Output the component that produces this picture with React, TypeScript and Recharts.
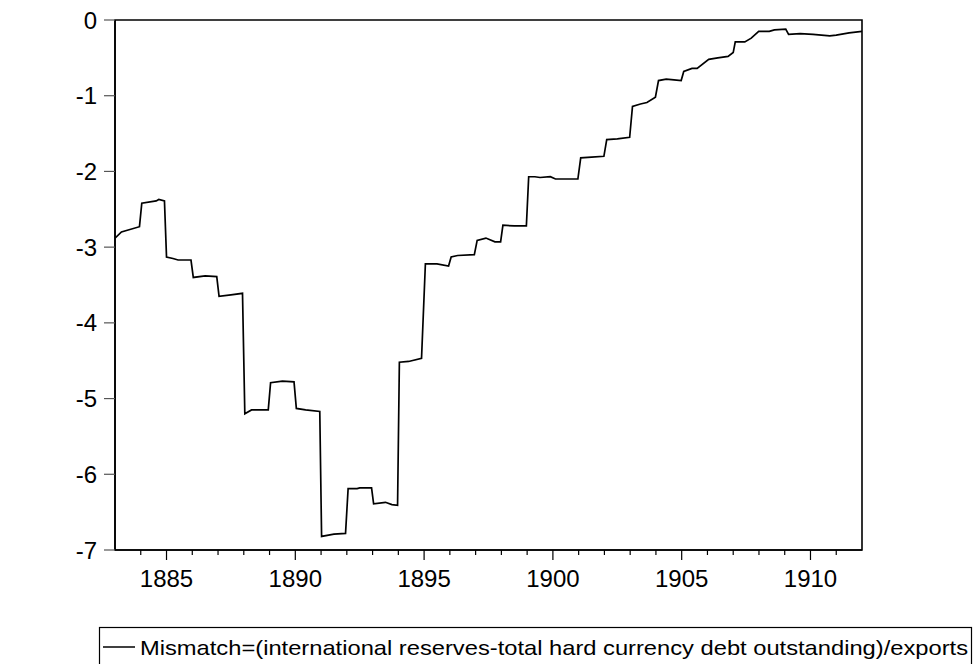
import { LineChart, Line, XAxis, YAxis, ReferenceArea } from 'recharts';

const years = [
  1883.0, 1883.25, 1883.95, 1884.04, 1884.6, 1884.7, 1884.92, 1885.0, 1885.25, 1885.45,
  1885.95, 1886.04, 1886.5, 1886.95, 1887.04, 1887.5, 1887.95, 1888.04, 1888.3, 1888.95,
  1889.04, 1889.5, 1889.95, 1890.04, 1890.4, 1890.95, 1891.02, 1891.5, 1891.95, 1892.05,
  1892.4, 1892.5, 1892.96, 1893.04, 1893.5, 1893.75, 1893.97, 1894.04, 1894.4, 1894.9,
  1895.05, 1895.5, 1895.95, 1896.05, 1896.3, 1896.95, 1897.06, 1897.4, 1897.75, 1897.97,
  1898.06, 1898.5, 1898.97, 1899.06, 1899.3, 1899.5, 1899.9, 1900.1, 1900.5, 1900.97,
  1901.08, 1901.5, 1901.98, 1902.09, 1902.5, 1902.98, 1903.09, 1903.4, 1903.65, 1903.98,
  1904.1, 1904.4, 1904.7, 1904.98, 1905.08, 1905.4, 1905.6, 1906.05, 1906.4, 1906.8,
  1907.0, 1907.08, 1907.45, 1907.7, 1907.99, 1908.4, 1908.6, 1909.04, 1909.15, 1909.6,
  1910.1, 1910.75, 1911.0, 1911.5, 1912.0,
];

const mismatch = [
  -2.88, -2.8, -2.73, -2.42, -2.39, -2.37, -2.39, -3.13, -3.15, -3.17,
  -3.17, -3.4, -3.38, -3.39, -3.65, -3.63, -3.61, -5.2, -5.15, -5.15,
  -4.79, -4.77, -4.78, -5.13, -5.15, -5.17, -6.82, -6.79, -6.78, -6.19,
  -6.19, -6.18, -6.18, -6.39, -6.37, -6.4, -6.41, -4.52, -4.51, -4.47,
  -3.22, -3.22, -3.25, -3.13, -3.11, -3.1, -2.91, -2.88, -2.93, -2.93,
  -2.71, -2.72, -2.72, -2.07, -2.07, -2.08, -2.07, -2.1, -2.1, -2.1,
  -1.82, -1.81, -1.8, -1.58, -1.57, -1.55, -1.14, -1.11, -1.09, -1.02,
  -0.8, -0.78, -0.79, -0.8, -0.68, -0.64, -0.64, -0.52, -0.5, -0.48,
  -0.43, -0.29, -0.29, -0.24, -0.15, -0.15, -0.13, -0.12, -0.19, -0.18,
  -0.19, -0.21, -0.2, -0.17, -0.15,
];

const yearTicks = [
  1884, 1885, 1886, 1887, 1888, 1889, 1890, 1891, 1892, 1893, 1894, 1895, 1896, 1897,
  1898, 1899, 1900, 1901, 1902, 1903, 1904, 1905, 1906, 1907, 1908, 1909, 1910, 1911,
];
const labelledYears = [1885, 1890, 1895, 1900, 1905, 1910];
const valueTicks = [-7, -6, -5, -4, -3, -2, -1, 0];

const seriesName = 'Mismatch=(international reserves-total hard currency debt outstanding)/exports';

const data = years.map((year, i) => ({ year, mismatch: mismatch[i] }));

const FONT = '"Liberation Sans", Arial, sans-serif';

// long tick + label on every fifth year, short tick otherwise
const YearTick = (props: any) => {
  const { x, y, payload } = props;
  const major = labelledYears.includes(payload.value);
  return (
    <g>
      <line x1={x} x2={x} y1={y} y2={y + (major ? 10 : 5)} stroke="#000" strokeWidth={1.2} />
      {major && (
        <text x={x} y={y + 37} textAnchor="middle" fontSize={24} fontFamily={FONT} fill="#000">
          {payload.value}
        </text>
      )}
    </g>
  );
};

export default function App() {
  return (
    <div style={{ position: 'absolute', left: 0, top: 0, width: 974, height: 664, background: '#fff' }}>
      <LineChart
        width={974}
        height={664}
        data={data}
        margin={{ top: 20, right: 112, left: 0, bottom: 74 }}
      >
        <XAxis
          dataKey="year"
          type="number"
          domain={[1883, 1912]}
          ticks={yearTicks}
          interval={0}
          allowDataOverflow
          height={40}
          tickSize={0}
          tickMargin={0}
          tickLine={false}
          tick={<YearTick />}
          axisLine={{ stroke: '#000', strokeWidth: 1.6 }}
        />
        <YAxis
          type="number"
          domain={[-7, 0]}
          ticks={valueTicks}
          interval={0}
          width={115}
          tickSize={11}
          tickMargin={7}
          tick={{ fontSize: 24, fontFamily: FONT, fill: '#000' }}
          tickLine={{ stroke: '#555', strokeWidth: 1.2 }}
          axisLine={{ stroke: '#000', strokeWidth: 1.6 }}
        />
        <ReferenceArea
          x1={1883}
          x2={1912}
          y1={-7}
          y2={0}
          fill="none"
          fillOpacity={0}
          stroke="#000"
          strokeWidth={1.6}
        />
        <Line
          type="linear"
          dataKey="mismatch"
          stroke="#000"
          strokeWidth={1.7}
          dot={false}
          isAnimationActive={false}
        />
      </LineChart>
      <svg
        width={974}
        height={664}
        style={{ position: 'absolute', left: 0, top: 0, pointerEvents: 'none' }}
      >
        <rect x={99.5} y={627.5} width={872} height={40} fill="none" stroke="#000" strokeWidth={1.2} />
        <line x1={103} x2={135} y1={647} y2={647} stroke="#000" strokeWidth={1.5} />
        <text
          x={140}
          y={655}
          fontSize={21}
          fontFamily={FONT}
          fill="#000"
          textLength={828}
          lengthAdjust="spacingAndGlyphs"
        >
          {seriesName}
        </text>
      </svg>
    </div>
  );
}
